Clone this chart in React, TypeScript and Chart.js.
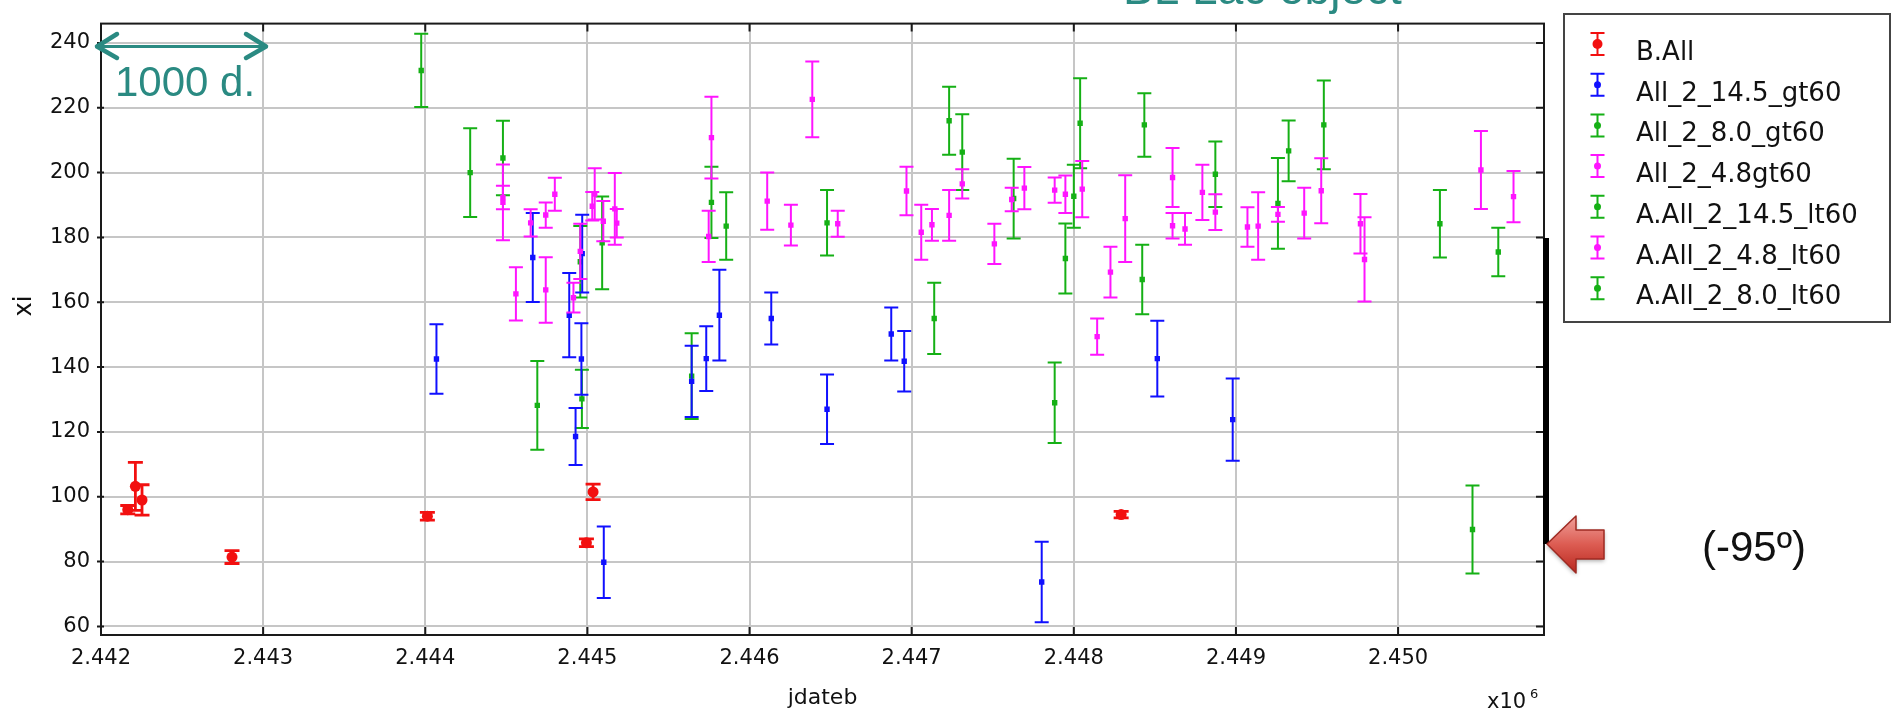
import React, { useEffect, useRef } from 'react';
import { Chart, registerables } from 'chart.js';

Chart.register(...registerables);

// ---- axis ticks ----
const jdTicks = [2442000, 2443000, 2444000, 2445000, 2446000, 2447000, 2448000, 2449000, 2450000];
const xiTicks = [60, 80, 100, 120, 140, 160, 180, 200, 220, 240];

// ---- B.All ----
const bAllDates = [2442165, 2442212, 2442253, 2442808, 2444013, 2444994, 2445035, 2448292];
const bAllXi = [96.0, 103.2, 99.0, 81.4, 94.0, 85.8, 101.5, 94.5];
const bAllErr = [1.3, 7.4, 4.7, 2.0, 1.2, 1.2, 2.4, 1.0];

// ---- All_2_14.5_gt60 ----
const gt145Dates = [2444069, 2444663, 2444888, 2444927, 2444963, 2444968, 2445101, 2445643, 2445733, 2445814, 2446134, 2446478, 2446874, 2446954, 2447802, 2448515, 2448980];
const gt145Xi = [142.5, 173.8, 156.0, 118.6, 142.5, 175.0, 79.8, 135.6, 142.6, 156.0, 155.0, 127.0, 150.2, 141.8, 73.7, 142.6, 123.8];
const gt145Err = [10.7, 13.7, 13.0, 8.8, 11.0, 12.0, 11.0, 11.0, 10.0, 14.0, 8.0, 10.7, 8.2, 9.3, 12.4, 11.7, 12.7];

// ---- All_2_8.0_gt60 ----
const gt80Dates = [2443975, 2444479, 2445091, 2445765, 2447231, 2447629, 2448039, 2448873, 2449325, 2450258];
const gt80Xi = [231.5, 204.5, 178.3, 190.8, 216.0, 192.0, 215.2, 199.5, 206.7, 184.2];
const gt80Err = [11.3, 11.5, 14.3, 11.0, 10.5, 12.3, 13.9, 10.1, 9.4, 10.4];

// ---- All_2_4.8gt60 ----
const gt48Dates = [2444479, 2444559, 2444743, 2444956, 2445045, 2445169, 2445765, 2446109, 2446387, 2446968, 2447059, 2447231, 2447695, 2448052, 2448226, 2448317, 2448609, 2448793, 2449137, 2449526, 2449793, 2450511];
const gt48Xi = [190.8, 162.6, 163.8, 175.7, 193.4, 188.8, 210.8, 191.2, 222.6, 194.3, 181.6, 186.8, 195.2, 194.9, 169.3, 185.8, 198.5, 193.9, 183.5, 194.4, 173.2, 200.8];
const gt48Err = [11.7, 8.2, 10.1, 8.5, 7.9, 11.1, 12.6, 8.8, 11.7, 7.5, 8.5, 7.8, 6.5, 8.7, 7.8, 13.4, 9.1, 8.5, 10.4, 10.0, 13.0, 12.0];

// ---- A.All_2_14.5_lt60 ----
const lt145Dates = [2444691, 2444966, 2445643, 2447139, 2447882, 2448422, 2450459];
const lt145Xi = [128.2, 130.2, 137.2, 155.0, 129.0, 167.0, 89.9];
const lt145Err = [13.7, 9.0, 13.2, 11.0, 12.4, 10.7, 13.6];

// ---- A.All_2_4.8_lt60 ----
const lt48Dates = [2444479, 2444650, 2444743, 2444799, 2444914, 2445030, 2445098, 2445181, 2445748, 2446255, 2446544, 2447125, 2447312, 2447510, 2447617, 2447882, 2447948, 2448144, 2448609, 2448686, 2448873, 2449071, 2449259, 2449421, 2449768, 2450712];
const lt48Xi = [192.3, 184.5, 186.9, 193.3, 161.4, 189.6, 185.0, 184.4, 180.3, 183.8, 184.2, 183.9, 196.5, 178.0, 191.7, 194.6, 193.3, 149.4, 183.6, 182.6, 187.8, 183.2, 187.1, 187.5, 184.2, 192.6];
const lt48Err = [3.6, 4.2, 3.9, 5.1, 4.6, 4.4, 6.2, 4.4, 7.9, 6.3, 4.0, 4.9, 4.5, 6.2, 3.6, 3.9, 5.8, 5.6, 3.9, 4.9, 5.5, 6.1, 2.3, 7.8, 9.2, 7.9];

// ---- A.All_2_8.0_lt60 ----
const lt80Dates = [2444277, 2444956, 2445856, 2446478, 2447312, 2447948, 2448000, 2448435, 2449259, 2449542, 2450618];
const lt80Xi = [200.0, 172.5, 183.5, 184.5, 206.3, 173.5, 192.7, 214.7, 190.5, 214.7, 175.5];
const lt80Err = [13.7, 11.0, 10.4, 10.1, 11.7, 10.8, 9.7, 9.8, 14.0, 13.7, 7.5];

const RED = '#f21010';
const BLUE = '#1010ff';
const GREEN = '#15b015';
const MAGENTA = '#ff14ff';
const TEAL = '#2a8a82';

const seriesLabels = ['B.All', 'All_2_14.5_gt60', 'All_2_8.0_gt60', 'All_2_4.8gt60', 'A.All_2_14.5_lt60', 'A.All_2_4.8_lt60', 'A.All_2_8.0_lt60'];
const seriesColors = [RED, BLUE, GREEN, MAGENTA, GREEN, MAGENTA, GREEN];

const toPoints = (dates: number[], xi: number[], err: number[]) =>
  dates.map((x, i) => ({ x, y: xi[i], err: err[i] }));

const TICK_FONT = { family: 'DejaVu Sans', size: 21 };

function makeDataset(idx: number, pts: any[], order: number, round: boolean) {
  const c = seriesColors[idx];
  return {
    label: seriesLabels[idx],
    data: pts,
    order,
    borderColor: c,
    backgroundColor: c,
    pointBackgroundColor: c,
    pointBorderColor: c,
    pointBorderWidth: 0,
    pointStyle: round ? 'circle' : 'rect',
    pointRadius: round ? 5.5 : 3.8,
    pointHoverRadius: round ? 5.5 : 3.8,
    showLine: false,
    errWidth: round ? 2.8 : 2,
    capHalf: round ? 7.5 : 7,
  };
}

// vertical error bars with caps, drawn just beneath each dataset's markers
const errorBars = {
  id: 'errorBars',
  beforeDatasetDraw(chart: any, args: any) {
    const { ctx, chartArea, scales } = chart;
    const ds = chart.data.datasets[args.index];
    const yScale = scales.y;
    const xScale = scales.x;
    ctx.save();
    ctx.beginPath();
    ctx.rect(chartArea.left, chartArea.top, chartArea.right - chartArea.left, chartArea.bottom - chartArea.top);
    ctx.clip();
    ctx.strokeStyle = ds.borderColor;
    ctx.lineWidth = ds.errWidth;
    ds.data.forEach((p: any) => {
      const x = xScale.getPixelForValue(p.x);
      const hi = yScale.getPixelForValue(p.y + p.err);
      const lo = yScale.getPixelForValue(p.y - p.err);
      ctx.beginPath();
      ctx.moveTo(x, hi);
      ctx.lineTo(x, lo);
      ctx.moveTo(x - ds.capHalf, hi);
      ctx.lineTo(x + ds.capHalf, hi);
      ctx.moveTo(x - ds.capHalf, lo);
      ctx.lineTo(x + ds.capHalf, lo);
      ctx.stroke();
    });
    ctx.restore();
  },
};

// frame, inward tick marks, legend box and annotations
const decorations = {
  id: 'decorations',
  afterDraw(chart: any) {
    const { ctx, chartArea: a, scales } = chart;
    ctx.save();

    // frame
    ctx.strokeStyle = '#1a1a1a';
    ctx.lineWidth = 2;
    ctx.strokeRect(a.left, a.top, a.right - a.left, a.bottom - a.top);

    // tick marks
    ctx.beginPath();
    scales.x.ticks.forEach((t: any) => {
      const px = scales.x.getPixelForValue(t.value);
      ctx.moveTo(px, a.bottom);
      ctx.lineTo(px, a.bottom - 8);
      ctx.moveTo(px, a.top);
      ctx.lineTo(px, a.top + 8);
    });
    scales.y.ticks.forEach((t: any) => {
      const py = scales.y.getPixelForValue(t.value);
      ctx.moveTo(a.left - 4, py);
      ctx.lineTo(a.left + 3, py);
      ctx.moveTo(a.right, py);
      ctx.lineTo(a.right - 8, py);
    });
    ctx.stroke();

    // thick marker bar on the right axis
    ctx.fillStyle = '#000';
    ctx.fillRect(a.right - 1, 238, 6, 306);

    // y axis title
    ctx.fillStyle = '#111';
    ctx.font = '24px "DejaVu Sans"';
    ctx.textAlign = 'center';
    ctx.textBaseline = 'middle';
    ctx.save();
    ctx.translate(25, 306);
    ctx.rotate(-Math.PI / 2);
    ctx.fillText('xi', 0, 0);
    ctx.restore();

    // exponent note
    ctx.textAlign = 'left';
    ctx.textBaseline = 'alphabetic';
    ctx.font = '21px "DejaVu Sans"';
    ctx.fillText('x10', 1487, 708);
    ctx.font = '13px "DejaVu Sans"';
    ctx.fillText('6', 1530, 698);

    // legend
    ctx.strokeStyle = '#444';
    ctx.lineWidth = 2;
    ctx.strokeRect(1564, 14, 326, 308);
    ctx.font = '26px "DejaVu Sans"';
    chart.data.datasets.forEach((ds: any, i: number) => {
      const cy = 44 + i * 40.7;
      const cx = 1597.5;
      ctx.strokeStyle = ds.borderColor;
      ctx.fillStyle = ds.borderColor;
      ctx.lineWidth = 2;
      ctx.beginPath();
      ctx.moveTo(cx, cy - 11);
      ctx.lineTo(cx, cy + 11);
      ctx.moveTo(cx - 7, cy - 11);
      ctx.lineTo(cx + 7, cy - 11);
      ctx.moveTo(cx - 7, cy + 11);
      ctx.lineTo(cx + 7, cy + 11);
      ctx.stroke();
      ctx.beginPath();
      ctx.arc(cx, cy, i === 0 ? 5 : 3.5, 0, Math.PI * 2);
      ctx.fill();
      ctx.fillStyle = '#111';
      ctx.fillText(ds.label, 1636, cy + 16);
    });

    // 1000-day scale arrow
    ctx.strokeStyle = TEAL;
    ctx.lineCap = 'round';
    ctx.lineJoin = 'round';
    ctx.lineWidth = 3;
    ctx.beginPath();
    ctx.moveTo(97, 46.5);
    ctx.lineTo(266, 46.5);
    ctx.stroke();
    ctx.lineWidth = 4.5;
    ctx.beginPath();
    ctx.moveTo(117, 34);
    ctx.lineTo(97, 46.5);
    ctx.lineTo(117, 58);
    ctx.moveTo(246, 34);
    ctx.lineTo(266, 46.5);
    ctx.lineTo(246, 58);
    ctx.stroke();
    ctx.fillStyle = TEAL;
    ctx.font = '42px "Liberation Sans"';
    ctx.fillText('1000 d.', 115, 96);

    // source label along the top edge
    ctx.font = '46px "Liberation Sans"';
    ctx.fillText('BL Lac object', 1123, 4);

    // red block arrow pointing at the axis
    const arrowPath = () => {
      ctx.beginPath();
      ctx.moveTo(1547, 544);
      ctx.lineTo(1576, 516);
      ctx.lineTo(1576, 530);
      ctx.lineTo(1604, 530);
      ctx.lineTo(1604, 559);
      ctx.lineTo(1576, 559);
      ctx.lineTo(1576, 573);
      ctx.closePath();
    };
    ctx.save();
    ctx.shadowColor = 'rgba(0,0,0,0.35)';
    ctx.shadowBlur = 4;
    ctx.shadowOffsetY = 2;
    const grad = ctx.createLinearGradient(0, 516, 0, 573);
    grad.addColorStop(0, '#f0a09a');
    grad.addColorStop(0.5, '#dc5c52');
    grad.addColorStop(1, '#b9281f');
    ctx.fillStyle = grad;
    arrowPath();
    ctx.fill();
    ctx.restore();
    ctx.strokeStyle = '#9e2a22';
    ctx.lineWidth = 1.5;
    arrowPath();
    ctx.stroke();

    ctx.fillStyle = '#111';
    ctx.font = '42px "Liberation Sans"';
    ctx.fillText('(-95º)', 1702, 561);

    ctx.restore();
  },
};

export default function App() {
  const canvasRef = useRef<HTMLCanvasElement>(null);

  useEffect(() => {
    const datasets = [
      makeDataset(0, toPoints(bAllDates, bAllXi, bAllErr), 0, true),
      makeDataset(1, toPoints(gt145Dates, gt145Xi, gt145Err), 2, false),
      makeDataset(2, toPoints(gt80Dates, gt80Xi, gt80Err), 3, false),
      makeDataset(3, toPoints(gt48Dates, gt48Xi, gt48Err), 1, false),
      makeDataset(4, toPoints(lt145Dates, lt145Xi, lt145Err), 3, false),
      makeDataset(5, toPoints(lt48Dates, lt48Xi, lt48Err), 1, false),
      makeDataset(6, toPoints(lt80Dates, lt80Xi, lt80Err), 3, false),
    ];

    const chart = new Chart(canvasRef.current as HTMLCanvasElement, {
      type: 'scatter',
      data: { datasets } as any,
      options: {
        animation: false,
        responsive: false,
        devicePixelRatio: 1,
        layout: { padding: { left: 0, top: 12, right: 352, bottom: 0 } },
        plugins: {
          legend: { display: false },
          tooltip: { enabled: false },
        },
        scales: {
          x: {
            type: 'linear',
            min: 2442000,
            max: 2450900,
            afterBuildTicks: (s: any) => { s.ticks = jdTicks.map((value) => ({ value })); },
            afterFit: (s: any) => { s.height = 79; },
            grid: { color: '#c6c6c6', lineWidth: 2, drawTicks: false },
            border: { display: false },
            ticks: {
              padding: 11,
              maxRotation: 0,
              color: '#111',
              font: TICK_FONT,
              callback: (v: any) => (Number(v) / 1e6).toFixed(3),
            },
            title: {
              display: true,
              text: 'jdateb',
              color: '#111',
              font: { family: 'DejaVu Sans', size: 22 },
              padding: { top: 0, bottom: 3 },
            },
          },
          y: {
            type: 'linear',
            min: 57.35,
            max: 245.96,
            afterBuildTicks: (s: any) => { s.ticks = xiTicks.map((value) => ({ value })); },
            afterFit: (s: any) => { s.width = 101; },
            grid: { color: '#c6c6c6', lineWidth: 2, drawTicks: false },
            border: { display: false },
            ticks: {
              padding: 11,
              color: '#111',
              font: TICK_FONT,
              callback: (v: any) => String(v),
            },
          },
        },
      } as any,
      plugins: [errorBars, decorations],
    });

    return () => chart.destroy();
  }, []);

  return (
    <div style={{ position: 'fixed', left: 0, top: 0, width: 1896, height: 714, background: '#fff' }}>
      <canvas ref={canvasRef} width={1896} height={714} style={{ display: 'block', width: 1896, height: 714 }} />
    </div>
  );
}
